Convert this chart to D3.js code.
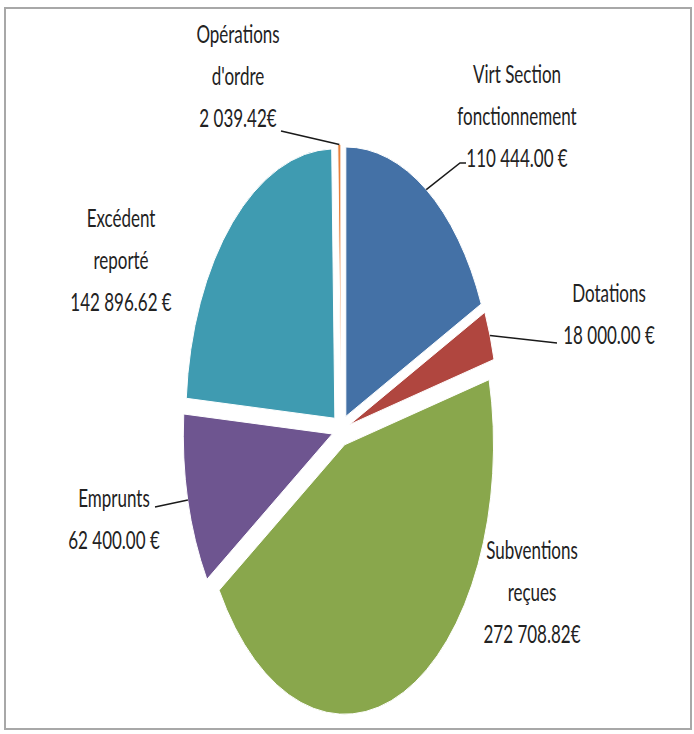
<!DOCTYPE html>
<html>
<head>
<meta charset="utf-8">
<script src="https://cdn.jsdelivr.net/npm/d3@7"></script>
<style>
  body { margin: 0; background: #fff; }
  svg { display: block; }
</style>
</head>
<body>
<svg id="chart" width="694" height="734"></svg>
<script>
// chart data
var categories = ['Virt Section fonctionnement', 'Dotations', 'Subventions reçues', 'Emprunts', 'Excédent reporté', "Opérations d'ordre"]
var nameLines = [['Virt Section', 'fonctionnement'], ['Dotations'], ['Subventions', 'reçues'], ['Emprunts'], ['Excédent', 'reporté'], ['Opérations', "d'ordre"]]
var values = [110444.00, 18000.00, 272708.82, 62400.00, 142896.62, 2039.42]
var valueLabels = ['110 444.00 €', '18 000.00 €', '272 708.82€', '62 400.00 €', '142 896.62 €', '2 039.42€']
var colors = ['#4471a6', '#b0463f', '#89a74c', '#6e5590', '#3f9bb1', '#e8803a']

// layout
var width = 694, height = 734
var cx = 341, cy = 430, rx = 149, ry = 269.4
var R = 100
var explode = 0.06
var lineGap = 42
var textScaleY = 1.45
// label anchors (centre of first line) and leader line points after the slice edge
var labelAnchors = [[517, 74], [609, 293], [532, 550], [114, 498], [121, 218], [238, 34]]
var leaderPoints = [[[460, 163], [466, 163]], [[557, 343]], [], [[155, 507]], [], [[281, 131]]]

var svg = d3.select('#chart')

svg.append('rect')
    .attr('x', 5)
    .attr('y', 8)
    .attr('width', 686)
    .attr('height', 721)
    .style('fill', 'none')
    .style('stroke', '#a8a8a8')
    .style('stroke-width', 2)

var xScale = d3.scaleLinear().domain([-R, R]).range([cx - rx, cx + rx])
var yScale = d3.scaleLinear().domain([-R, R]).range([cy - ry, cy + ry])

var pie = d3.pie().sort(null).value(function (d) { return d })
var arcs = pie(values)
var arc = d3.arc().innerRadius(0).outerRadius(R)

var pieLayer = svg.append('g')
    .attr('transform', 'translate(' + cx + ',' + cy + ') scale(' + (rx / R) + ',' + (ry / R) + ')')

function midAngle(d) {
    return (d.startAngle + d.endAngle) / 2
}

pieLayer.selectAll('path')
    .data(arcs)
    .enter()
    .append('path')
    .attr('d', arc)
    .attr('transform', function (d) {
        var m = midAngle(d)
        return 'translate(' + (explode * R * Math.sin(m)) + ',' + (-explode * R * Math.cos(m)) + ')'
    })
    .style('fill', function (d, i) { return colors[i] })
    .style('stroke', '#fff')
    .style('stroke-width', 1)
    .attr('vector-effect', 'non-scaling-stroke')

// leader lines
var lineGen = d3.line()
arcs.forEach(function (d, i) {
    if (leaderPoints[i].length === 0) return
    var m = midAngle(d)
    var edge = [xScale((1 + explode) * R * Math.sin(m)), yScale(-(1 + explode) * R * Math.cos(m))]
    svg.append('path')
        .attr('d', lineGen([edge].concat(leaderPoints[i])))
        .style('fill', 'none')
        .style('stroke', '#1a1a1a')
        .style('stroke-width', 1.5)
})

// labels
var labelLayer = svg.append('g')
    .style('font-family', 'Lato, "Open Sans", sans-serif')
    .style('font-size', '17px')
    .style('fill', '#222')

categories.forEach(function (c, i) {
    var lines = nameLines[i].concat([valueLabels[i]])
    lines.forEach(function (t, j) {
        labelLayer.append('text')
            .attr('transform', 'translate(' + labelAnchors[i][0] + ',' + (labelAnchors[i][1] + j * lineGap) + ') scale(1,' + textScaleY + ')')
            .attr('text-anchor', 'middle')
            .attr('dominant-baseline', 'central')
            .text(t)
    })
})
</script>
</body>
</html>
